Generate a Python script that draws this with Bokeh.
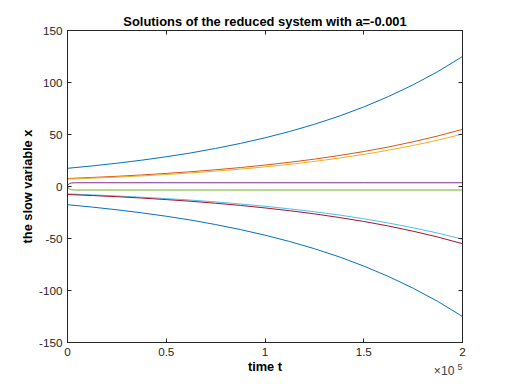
from bokeh.plotting import figure
from bokeh.models import FixedTicker, LinearAxis, Range1d, Title
from bokeh.embed import file_html
from bokeh.resources import INLINE

# ---- data ----
t = [0, 12500, 25000, 37500, 50000, 62500, 75000, 87500, 100000,
     112500, 125000, 137500, 150000, 162500, 175000, 187500, 200000]
x_blue_top = [17.5, 19.8, 22.4, 25.3, 28.6, 32.3, 36.6, 41.4, 46.8,
              52.9, 59.8, 67.6, 76.5, 86.5, 97.8, 110.5, 125.0]
x_orange = [7.7, 8.7, 9.8, 11.1, 12.6, 14.2, 16.1, 18.2, 20.6,
            23.3, 26.3, 29.8, 33.6, 38.0, 43.0, 48.6, 55.0]
x_yellow = [7.1, 8.0, 9.0, 10.2, 11.5, 13.1, 14.8, 16.7, 18.9,
            21.3, 24.1, 27.3, 30.8, 34.9, 39.4, 44.6, 50.4]
t_flat = [0, 1000, 2000, 4000, 50000, 100000, 150000, 200000]
x_purple = [1.3, 2.8, 3.4, 3.6, 3.6, 3.6, 3.6, 3.6]
x_green = [-0.5, -2.3, -3.1, -3.4, -3.4, -3.4, -3.4, -3.4]
x_lightblue = [-7.1, -8.0, -9.1, -10.3, -11.6, -13.1, -14.8, -16.8, -19.0,
               -21.5, -24.3, -27.4, -31.0, -35.1, -39.7, -44.8, -50.7]
x_red = [-7.7, -8.7, -9.8, -11.1, -12.6, -14.2, -16.1, -18.2, -20.6,
         -23.3, -26.3, -29.8, -33.6, -38.0, -43.0, -48.6, -55.0]
x_blue_bot = [-17.5, -19.8, -22.4, -25.3, -28.6, -32.3, -36.6, -41.4, -46.8,
              -52.9, -59.8, -67.6, -76.5, -86.5, -97.8, -110.5, -125.0]

x_ticks = [0, 50000, 100000, 150000, 200000]
x_tick_labels = ["0", "0.5", "1", "1.5", "2"]
x_exp_base = "×10"
x_exp_power = "5"
y_ticks = [-150, -100, -50, 0, 50, 100, 150]
y_tick_labels = ["-150", "-100", "-50", "0", "50", "100", "150"]

series = [
    (t, x_blue_top, "#0072BD"),
    (t, x_orange, "#D95319"),
    (t, x_yellow, "#EDB120"),
    (t_flat, x_purple, "#7E2F8E"),
    (t_flat, x_green, "#77AC30"),
    (t, x_lightblue, "#4DBEEE"),
    (t, x_red, "#A2142F"),
    (t, x_blue_bot, "#0072BD"),
]

FONT = "Liberation Sans"
TXT = "#262626"

p = figure(frame_width=395, frame_height=312,
           x_range=Range1d(0, 200000), y_range=Range1d(-150, 150),
           output_backend="svg", toolbar_location=None,
           min_border_left=67, min_border_right=50,
           min_border_top=30, min_border_bottom=42,
           title="Solutions of the reduced system with a=-0.001")
p.background_fill_color = "white"
p.border_fill_color = "white"
p.outline_line_color = TXT
p.grid.visible = False

p.title.align = "center"
p.title.text_font = FONT
p.title.text_font_size = "12.9px"
p.title.text_font_style = "bold"
p.title.text_color = "#000000"
p.title.standoff = 4

for (tt, yy, c) in series:
    p.line(tt, yy, line_color=c, line_width=1)

xax = p.xaxis[0]
yax = p.yaxis[0]
xax.ticker = FixedTicker(ticks=x_ticks)
xax.major_label_overrides = {tk: lb for tk, lb in zip(x_ticks, x_tick_labels)}
yax.ticker = FixedTicker(ticks=y_ticks)
yax.major_label_overrides = {tk: lb for tk, lb in zip(y_ticks, y_tick_labels)}
xax.axis_label = "time t"
yax.axis_label = "the slow variable x"

for ax in (xax, yax):
    ax.axis_line_color = TXT
    ax.major_tick_line_color = TXT
    ax.major_tick_in = 4
    ax.major_tick_out = 0
    ax.minor_tick_line_color = None
    ax.major_label_text_font = FONT
    ax.major_label_text_font_size = "11.7px"
    ax.major_label_text_color = TXT
    ax.axis_label_text_font = FONT
    ax.axis_label_text_font_size = "12.8px"
    ax.axis_label_text_font_style = "bold"
    ax.axis_label_text_color = "#000000"
xax.major_label_standoff = 5
xax.axis_label_standoff = 0
yax.major_label_standoff = 5
yax.axis_label_standoff = 1

# top and right tick marks (no labels)
for loc, tk in (("above", x_ticks), ("right", y_ticks)):
    ax = LinearAxis(ticker=FixedTicker(ticks=tk))
    ax.major_label_overrides = {v: "" for v in tk}
    ax.major_label_text_font_size = "0px"
    ax.major_label_standoff = 0
    ax.axis_line_color = TXT
    ax.major_tick_line_color = TXT
    ax.major_tick_in = 4
    ax.major_tick_out = 0
    ax.minor_tick_line_color = None
    p.add_layout(ax, loc)

# exponent marker below the x axis, pulled up beside the axis label
expo_base = Title(text=x_exp_base, align="right", vertical_align="top",
                  standoff=-26, offset=8,
                  text_font=FONT, text_font_size="12.2px",
                  text_font_style="normal", text_color="#404040")
p.add_layout(expo_base, "below")
expo_pow = Title(text=x_exp_power, align="right", vertical_align="top",
                 standoff=-26, offset=0,
                 text_font=FONT, text_font_size="9px",
                 text_font_style="normal", text_color="#404040")
p.add_layout(expo_pow, "below")

open("out.html", "w").write(file_html(p, INLINE))
